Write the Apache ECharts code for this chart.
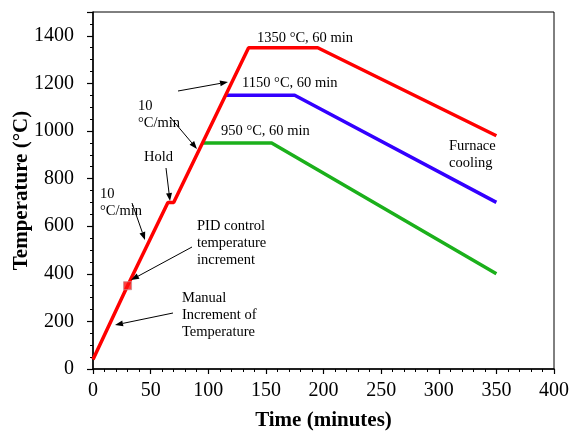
<!DOCTYPE html>
<html><head><meta charset="utf-8">
<script src="https://cdn.jsdelivr.net/npm/echarts@6/dist/echarts.min.js"></script>
<style>html,body{margin:0;padding:0;background:#fff}#c{width:570px;height:432px}</style>
</head><body><div id="c"></div>
<script>
// Data (time in minutes, temperature in °C)
const redTime = [0, 30, 65, 70, 135, 195, 350];
const redTemp = [40, 350, 700, 700, 1350, 1350, 980];
const blueTime = [115, 175, 350];
const blueTemp = [1150, 1150, 700];
const greenTime = [95, 155, 350];
const greenTemp = [950, 950, 400];
const markerTime = [30];
const markerTemp = [350];
const xTicks = [0, 50, 100, 150, 200, 250, 300, 350, 400];
const yTicks = [0, 200, 400, 600, 800, 1000, 1200, 1400];

const zip = (a, b) => a.map((v, i) => [v, b[i]]);
const FONT = 'Liberation Serif';

const chart = echarts.init(document.getElementById('c'), null, {renderer: 'canvas'});

function arrow(x1, y1, x2, y2) {
  const ang = Math.atan2(y2 - y1, x2 - x1);
  const L = 8, W = 3;
  const bx = x2 - L * Math.cos(ang), by = y2 - L * Math.sin(ang);
  const px = -Math.sin(ang) * W, py = Math.cos(ang) * W;
  return [
    {type: 'line', shape: {x1, y1, x2: bx, y2: by}, style: {stroke: '#000', lineWidth: 1}, z: 100},
    {type: 'polygon', shape: {points: [[x2, y2], [bx + px, by + py], [bx - px, by - py]]}, style: {fill: '#000'}, z: 100}
  ];
}
function txt(x, y, s, opts) {
  return Object.assign({type: 'text', x, y, style: {text: s, font: '14.5px "' + FONT + '"', fill: '#000', textVerticalAlign: 'middle', lineHeight: 17}, z: 100}, opts || {});
}

const graphics = [].concat(
  [txt(257, 38, '1350 °C, 60 min'),
   txt(242, 83, '1150 °C, 60 min'),
   txt(221, 131, '950 °C, 60 min'),
   txt(138, 115, '10\n°C/min'),
   txt(144, 157, 'Hold'),
   txt(100, 203, '10\n°C/min'),
   txt(197, 243, 'PID control\ntemperature\nincrement'),
   txt(182, 315, 'Manual\nIncrement of\nTemperature'),
   txt(449, 155, 'Furnace\ncooling')],
  arrow(178, 91, 228, 82),
  arrow(170, 117, 197, 149),
  arrow(166, 168, 170, 201),
  arrow(132, 203, 145, 240),
  arrow(192, 247, 131, 280),
  arrow(173, 313, 115, 325)
);

chart.setOption({
  animation: false,
  backgroundColor: '#fff',
  grid: {left: 93, right: 16, top: 12, bottom: 63, outerBoundsMode: 'none', containLabel: false,
         show: true, borderColor: '#000', borderWidth: 1, backgroundColor: 'transparent'},
  xAxis: {
    type: 'value', min: xTicks[0], max: xTicks[xTicks.length - 1], interval: 50,
    name: 'Time (minutes)', nameLocation: 'middle', nameGap: 41, nameMoveOverlap: false,
    nameTextStyle: {fontFamily: FONT, fontSize: 21, fontWeight: 'bold', color: '#000'},
    axisLine: {onZero: false, lineStyle: {color: '#000', width: 1.5}},
    axisTick: {inside: false, length: 5, lineStyle: {color: '#000', width: 1.2}},
    minorTick: {show: true, splitNumber: 5, length: 3, lineStyle: {color: '#000', width: 1}},
    axisLabel: {fontFamily: FONT, fontSize: 20, color: '#000', margin: 12},
    splitLine: {show: false}
  },
  yAxis: {
    type: 'value', min: 0, max: 1500, interval: 200,
    name: 'Temperature (°C)', nameLocation: 'middle', nameGap: 61, nameMoveOverlap: false,
    nameTextStyle: {fontFamily: FONT, fontSize: 21, fontWeight: 'bold', color: '#000'},
    axisLine: {onZero: false, lineStyle: {color: '#000', width: 1.5}},
    axisTick: {inside: false, length: 6, lineStyle: {color: '#000', width: 1.2}},
    minorTick: {show: true, splitNumber: 4, length: 3, lineStyle: {color: '#000', width: 1}},
    axisLabel: {fontFamily: FONT, fontSize: 20, color: '#000', margin: 19,
      formatter: v => (yTicks.indexOf(v) >= 0 ? String(v) : '')},
    splitLine: {show: false}
  },
  series: [
    {type: 'line', data: zip(greenTime, greenTemp), symbol: 'none', lineStyle: {color: '#1bb01b', width: 3.5}, z: 2},
    {type: 'line', data: zip(blueTime, blueTemp), symbol: 'none', lineStyle: {color: '#3300ff', width: 3.5}, z: 3},
    {type: 'line', data: zip(redTime, redTemp), symbol: 'none', lineStyle: {color: '#ff0000', width: 3.5}, z: 4},
    {type: 'scatter', data: zip(markerTime, markerTemp), symbol: 'rect', symbolSize: 8,
     itemStyle: {color: '#ff1010', borderColor: '#c98c8c', borderWidth: 1}, z: 5}
  ],
  graphic: graphics
});
</script></body></html>
